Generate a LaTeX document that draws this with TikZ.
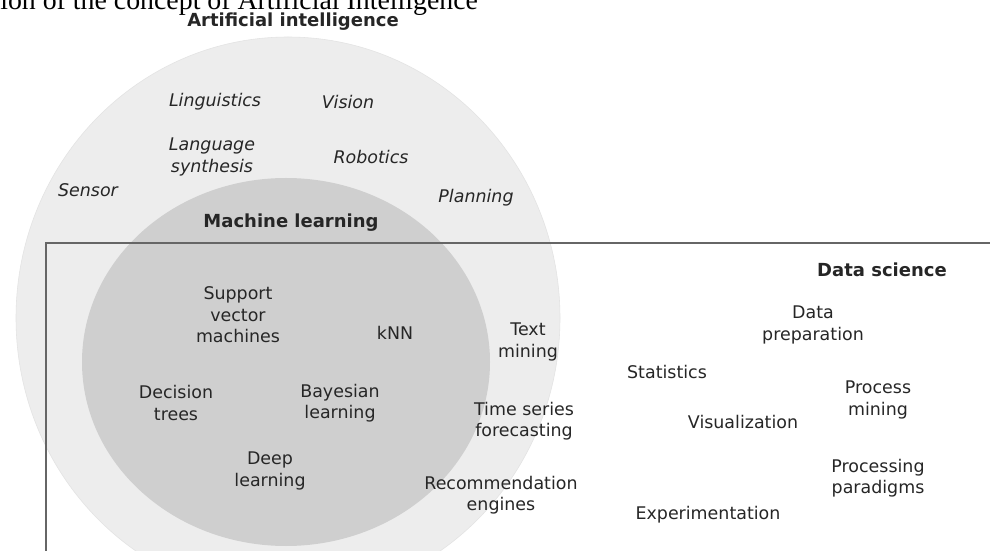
\documentclass[tikz,border=0pt]{standalone}
\usepackage{fontspec}
\setmainfont{Liberation Serif}
\setsansfont{DejaVu Sans}
\usetikzlibrary{positioning}

\begin{document}
\begin{tikzpicture}[
  x=0.25mm, y=-0.25mm,
  font=\sffamily\fontsize{12.4}{15.3}\selectfont,
  lb/.style={align=center, inner sep=1pt, text=black!85},
  il/.style={lb, font=\sffamily\itshape\fontsize{12.4}{15.3}\selectfont},
  hd/.style={lb, font=\sffamily\bfseries\fontsize{12.8}{15.3}\selectfont},
  captxt/.style={anchor=base west, inner sep=0pt, font=\rmfamily\fontsize{19.8}{24}\selectfont}
]
\clip (0,0) rectangle (990,551);
\fill[white] (0,0) rectangle (990,551);
\filldraw[fill=black!7, draw=black!11] (288,318) ellipse[x radius=272, y radius=281];
\fill[black!19] (286,362) ellipse[x radius=204, y radius=184];
\draw[black!60, line width=1.2pt] (46,243) rectangle (1010,590);
\node[captxt] (title) at (0,10) {ion of the concept of Artificial Intelligence};
\node[hd] (ai) at (293,22) {Artificial intelligence};
\node[il] (ling) at (215,102) {Linguistics};
\node[il] (vis) at (348,102) {Vision};
\node[il] (lang) at (212,157) {Language\\synthesis};
\node[il] (rob) at (371,157) {Robotics};
\node[il] (sens) at (88,190) {Sensor};
\node[il] (plan) at (476,198) {Planning};
\node[hd] (ml) at (291,223) {Machine learning};
\node[hd] (ds) at (882,270) {Data science};
\node[lb] (svm) at (238,315) {Support\\vector\\machines};
\node[lb] (knn) at (395,333) {kNN};
\node[lb] (text) at (528,342) {Text\\mining};
\node[lb] (prep) at (813,325) {Data\\preparation};
\node[lb] (stat) at (667,372) {Statistics};
\node[lb] (dt) at (176,403) {Decision\\trees};
\node[lb] (bay) at (340,403) {Bayesian\\learning};
\node[lb] (ts) at (524,421) {Time series\\forecasting};
\node[lb] (pm) at (878,400) {Process\\mining};
\node[lb] (visu) at (743,422) {Visualization};
\node[lb] (deep) at (270,471) {Deep\\learning};
\node[lb] (rec) at (501,495) {Recommendation\\engines};
\node[lb] (para) at (878,478) {Processing\\paradigms};
\node[lb] (exp) at (708,515) {Experimentation};
\end{tikzpicture}
\end{document}
